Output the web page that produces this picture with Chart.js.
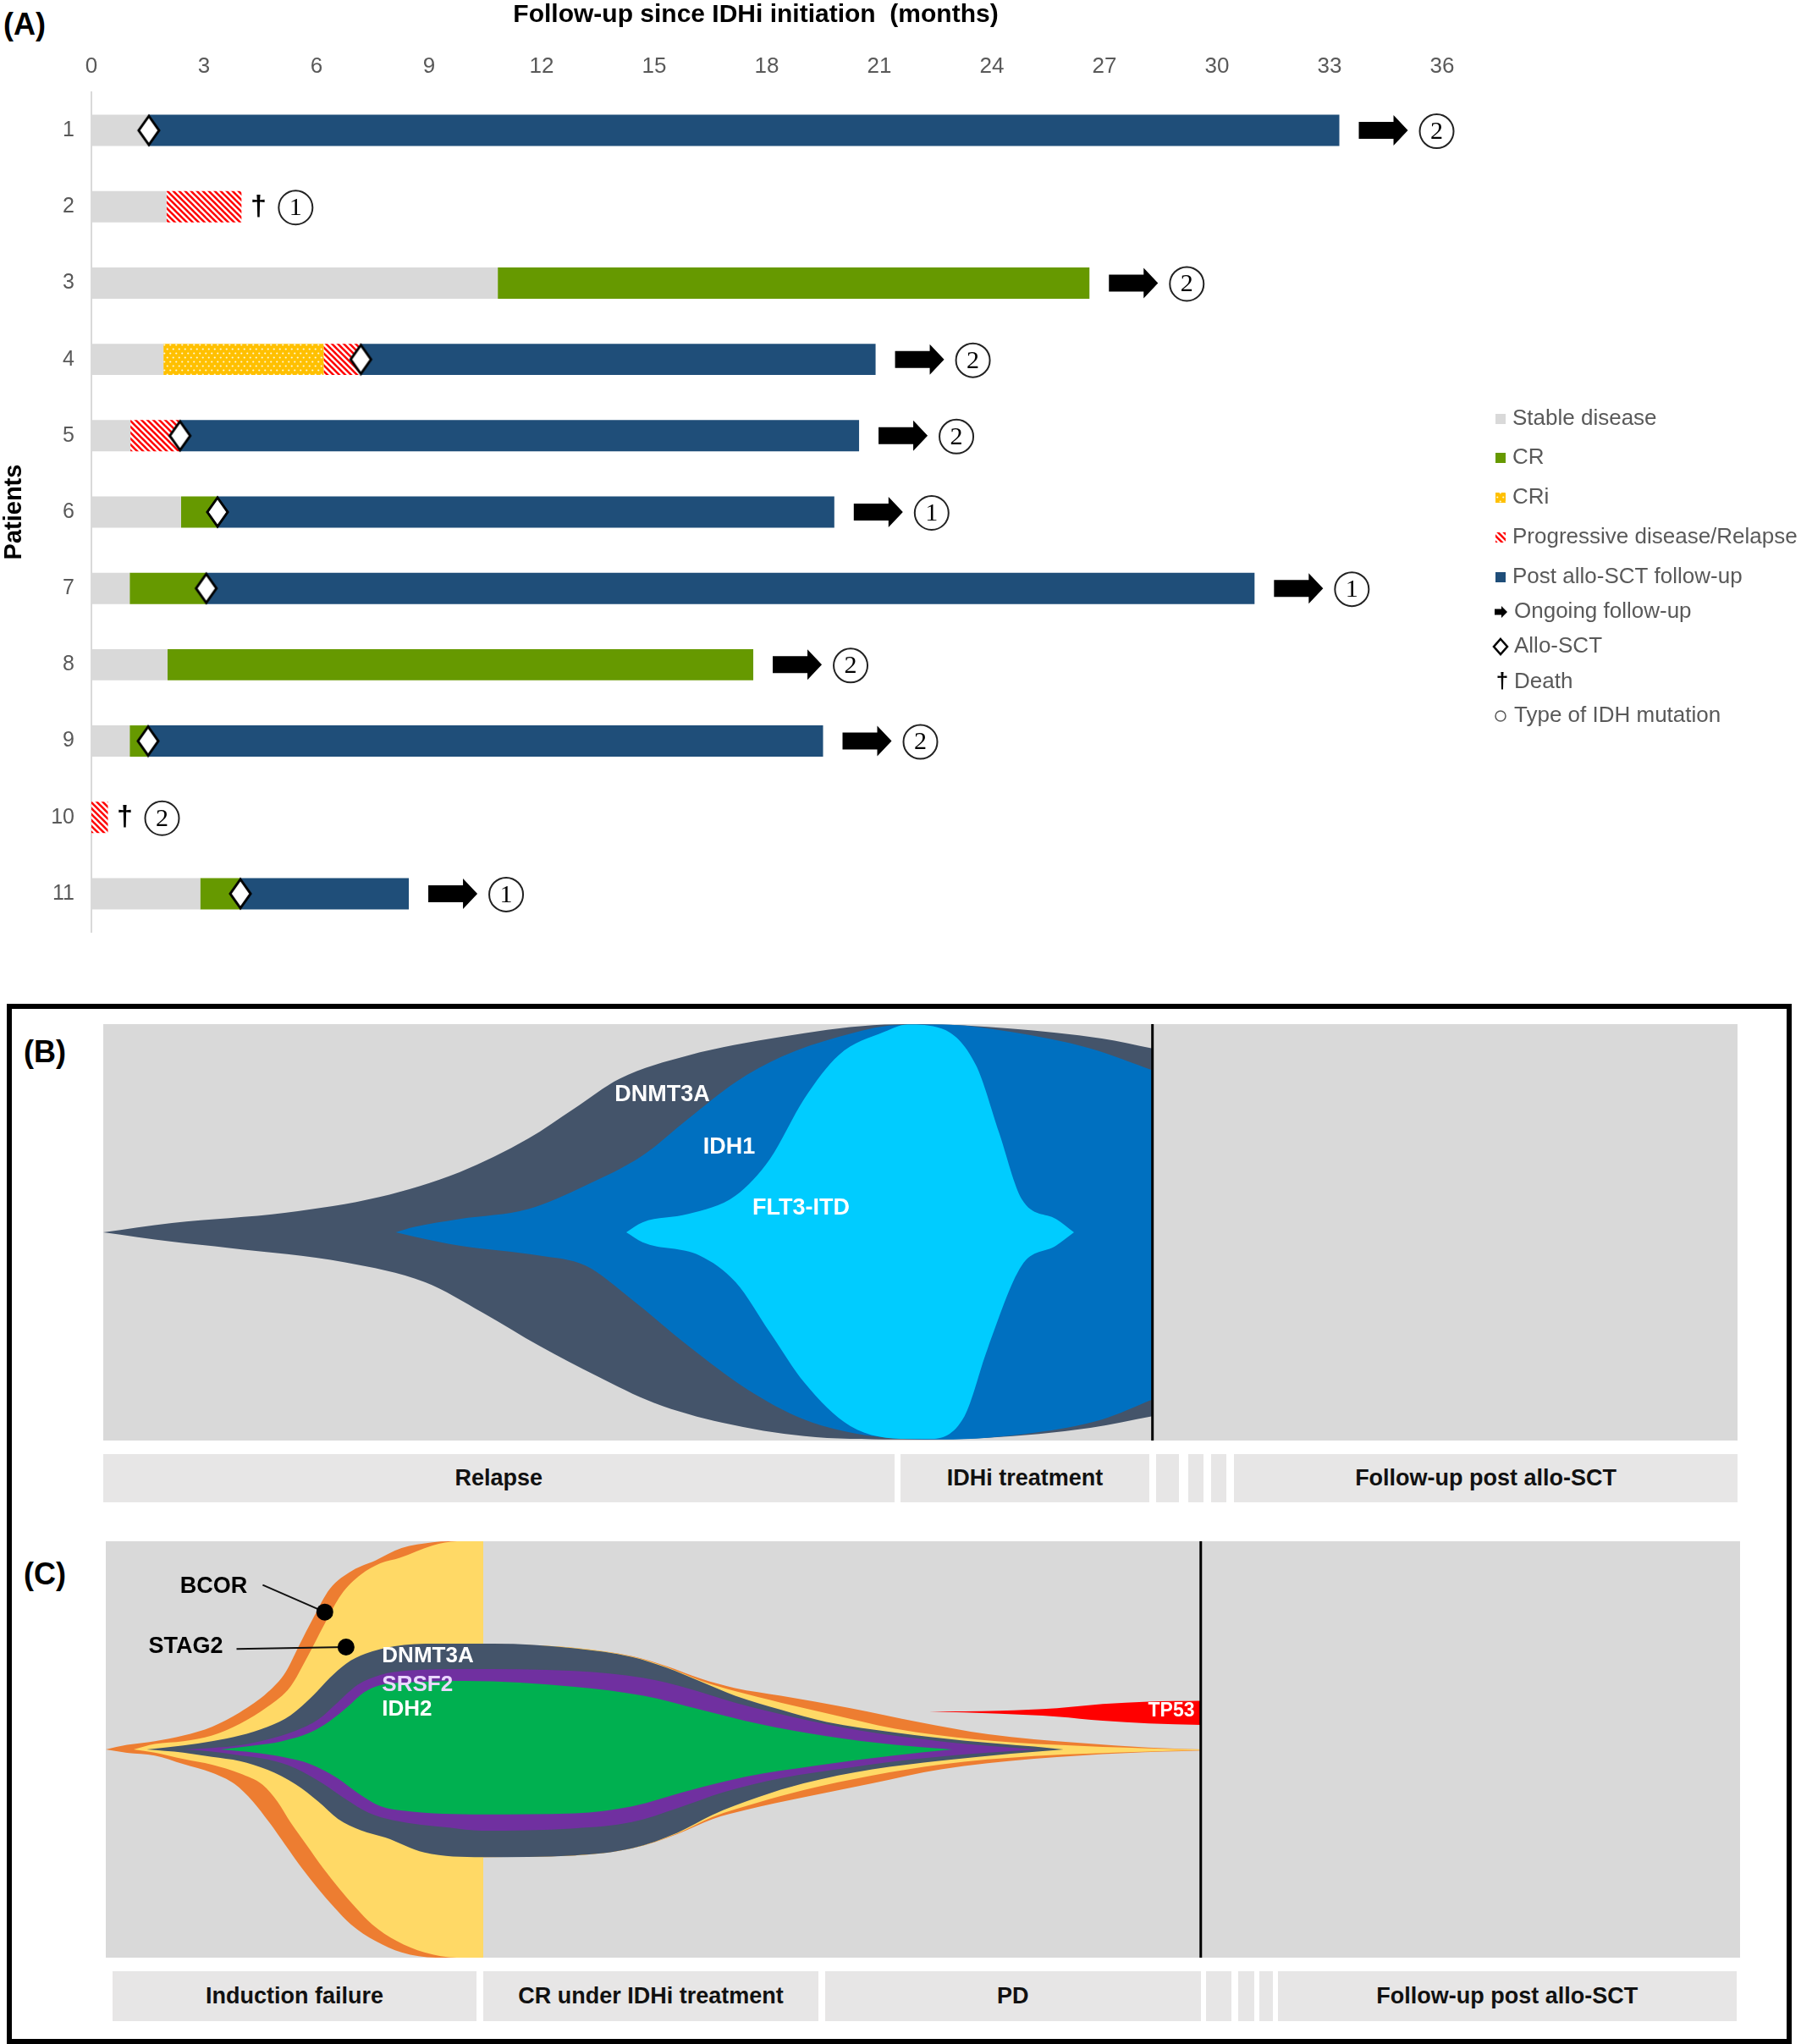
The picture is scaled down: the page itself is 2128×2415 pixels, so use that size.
<!DOCTYPE html>
<html>
<head>
<meta charset="utf-8">
<script src="https://cdn.jsdelivr.net/npm/chart.js@4.4.1/dist/chart.umd.min.js"></script>
<style>
    body { margin: 0; width: 2128px; height: 2415px; position: relative; overflow: hidden; background: #fff;
           font-family: "Liberation Sans", Arial, sans-serif; }
    canvas { position: absolute; }
    .panel-label { position: absolute; font-weight: bold; font-size: 36px; line-height: 40px; color: #000; }
    .frame { position: absolute; left: 8px; top: 1186px; width: 2097px; height: 1217px; border: 6px solid #000; }
    .phase { position: absolute; background: #e7e6e6; font-weight: bold; font-size: 27px; color: #111;
             display: flex; align-items: center; justify-content: center; white-space: nowrap; }
</style>
</head>
<body>
<div class="panel-label" style="left:4px;top:9px">(A)</div>
<div class="frame"></div>
<div class="panel-label" style="left:28px;top:1223px">(B)</div>
<div class="panel-label" style="left:28px;top:1840px">(C)</div>

<canvas id="swimmer" width="2128" height="1140" style="left:0;top:0;width:2128px;height:1140px"></canvas>
<canvas id="fishB" width="1931" height="492" style="left:122px;top:1210px;width:1931px;height:492px"></canvas>
<canvas id="fishC" width="1931" height="492" style="left:125px;top:1821px;width:1931px;height:492px"></canvas>

<script>
// ===== Panel A: swimmer plot (months since IDHi initiation) =====
const patients = ['1', '2', '3', '4', '5', '6', '7', '8', '9', '10', '11'];
const monthTicks = [0, 3, 6, 9, 12, 15, 18, 21, 24, 27, 30, 33, 36];

const stableDisease = [[0, 1.53], [0, 2.0], [0, 10.83], [0, 1.92], [0, 1.04], [0, 2.39], [0, 1.02], [0, 2.03], [0, 1.02], null, [0, 2.9]];
const completeRemission = [null, null, [10.83, 26.6], null, null, [2.39, 3.36], [1.02, 3.06], [2.03, 17.64], [1.02, 1.51], null, [2.9, 3.97]];
const criResponse = [null, null, null, [1.92, 6.19], null, null, null, null, null, null, null];
const progression = [null, [2.0, 4.0], null, [6.19, 7.18], [1.04, 2.36], null, null, null, null, [0, 0.44], null];
const postAlloSct = [[1.53, 33.26], null, null, [7.18, 20.9], [2.36, 20.46], [3.36, 19.8], [3.06, 31.0], null, [1.51, 19.5], null, [3.97, 8.46]];

const alloSctAt = [1.53, null, null, 7.18, 2.36, 3.36, 3.06, null, 1.51, null, 3.97];
const outcome = ['ongoing', 'death', 'ongoing', 'ongoing', 'ongoing', 'ongoing', 'ongoing', 'ongoing', 'ongoing', 'death', 'ongoing'];
const idhType = [2, 1, 2, 2, 2, 1, 1, 2, 2, 2, 1];

// ===== Panel B: clonal evolution, patient with relapse =====
const dnmt3aTopB = [[0, 0], [4.2, 4.5], [11.2, 9.5], [16.9, 17], [21.8, 28.9], [26, 45], [28.8, 59.4], [31.6, 73.8], [35.8, 85], [41.5, 93.9], [47.1, 99.5], [49.9, 100], [55.5, 97.9], [61.1, 93.1], [64.2, 88.3]];
const dnmt3aBottomB = [[0, 0], [4.2, -4.5], [7.7, -7.5], [14.8, -14.4], [19.7, -24], [23.2, -38.5], [26.7, -54.6], [30.2, -69], [33.7, -81.9], [37.9, -91.5], [42.9, -97.9], [48.5, -99.5], [54.1, -98.7], [60.4, -93.9], [64.2, -88.3]];
const idh1TopB = [[17.9, 0], [19, 2.5], [21.8, 6.4], [26, 11.2], [29.5, 22.5], [33, 36.9], [35.8, 54.6], [38.7, 72.2], [41.5, 84.3], [45, 93.9], [48.5, 99.5], [51.3, 99.8], [55.5, 96.3], [60.4, 88.3], [64.2, 77.8]];
const idh1BottomB = [[17.9, 0], [19, -2], [21.8, -6.4], [26.7, -11.2], [29.5, -16], [32.3, -32], [35.8, -54.6], [39.4, -75.4], [42.9, -89.9], [47.1, -97.9], [51.3, -99.5], [56.9, -96.3], [61.1, -89.9], [64.2, -80.3]];
const flt3TopB = [[32, 0], [33, 4.8], [35.8, 8.8], [38.7, 17.7], [40.8, 35.3], [42.9, 64.2], [45, 85.1], [47.8, 96.3], [49.2, 99.8], [51.3, 97.9], [53.4, 80.3], [54.8, 48.2], [56.2, 16], [58.3, 6.4], [59.4, 0]];
const flt3BottomB = [[32, 0], [33, -4.8], [36.5, -11.2], [38.7, -24], [40.8, -48.2], [42.9, -72.2], [45.7, -93], [49.2, -99.2], [50.6, -99.2], [52.7, -88.3], [54.1, -56.2], [56.2, -16], [58.3, -6.4], [59.4, 0]];
const alloSctTimeB = 64.2;
const phasesB = ['Relapse', 'IDHi treatment', '', '', '', 'Follow-up post allo-SCT'];
const phaseStartB = [0, 48.8, 64.4, 66.4, 67.8, 69.2];
const phaseEndB = [48.4, 64.0, 65.8, 67.3, 68.7, 100];

// ===== Panel C: clonal evolution, patient with induction failure =====
const orangeTopC1 = [[0, 0], [1.3, 2.2], [3, 4], [4.75, 6.7], [6.5, 10.9], [8.2, 17.8], [9.9, 27.4], [11, 37.1], [11.8, 49.5], [12.7, 63.2], [13.7, 77], [15.1, 86], [16.5, 90.8], [18.1, 96.7], [20, 99.5], [21, 100], [23.1, 100]];
const orangeBottomC1 = [[0, 0], [1.3, -1.6], [3, -2.9], [4.75, -7], [6.5, -11.2], [7.9, -16.7], [9, -25], [10, -35], [11, -46], [12, -57], [13, -67], [14, -76], [15, -84], [16.5, -92], [18.1, -97.5], [20.2, -100], [23.1, -100]];
const yellowTopC1 = [[1.7, 0], [3, 2.6], [4.75, 4], [6.5, 6.7], [8.2, 12.3], [9.9, 20.5], [11.3, 30.2], [12.3, 43.9], [13.4, 60.5], [14.4, 74.3], [15.6, 83.9], [16.8, 89.4], [18, 92.1], [20, 98], [21.5, 100], [23.1, 100]];
const yellowBottomC1 = [[1.7, 0], [3, -1.5], [4.75, -4.6], [6.5, -7.3], [8.2, -11.5], [9.6, -17], [10.5, -25], [11.3, -35], [12.3, -46], [13.3, -57], [14.3, -67], [15.3, -76], [16.3, -84], [17.8, -92], [19.5, -97.5], [21.5, -100], [23.1, -100]];
const orangeTopC2 = [[23, 50.8], [28.7, 48.8], [32.2, 44.8], [34.3, 40], [36.4, 34], [38.5, 29.5], [41.3, 25.8], [45.5, 19.9], [49.7, 13.2], [54, 7.3], [59.6, 3.1], [63.8, 0.9], [67, 0]];
const orangeBottomC2 = [[23, -51.7], [28.7, -50.9], [32.2, -47.5], [35, -40.5], [37.1, -33.5], [39.2, -29], [42.7, -23], [46.9, -16.3], [51.1, -9.6], [56.8, -4.5], [62.4, -1.7], [67, -0.5]];
const yellowTopC2 = [[23, 50.8], [28.7, 48.8], [32.2, 44.6], [34.3, 39.6], [36.4, 33], [38.5, 28], [41.3, 22.5], [44.1, 17.4], [48.3, 10], [53.3, 4.8], [58.2, 2.2], [63.8, 0.5], [67, 0]];
const yellowBottomC2 = [[23, -51.7], [28.7, -50.9], [32.2, -47.5], [35, -40.2], [37.1, -32.5], [39.9, -25.5], [42.7, -19.5], [46.9, -12.5], [51.1, -7.2], [56.8, -3.2], [63.8, -1], [67, -0.3]];
const dnmt3aTopC = [[2.5, 0], [4.75, 1.9], [6.5, 4], [8.2, 6.7], [9.9, 10.9], [11.3, 16.4], [12.7, 26], [13.7, 34.3], [14.7, 41.2], [15.9, 46], [17.6, 49.5], [20.2, 50.8], [23.7, 50.8], [28.7, 48.6], [32.2, 44.4], [34.3, 39.3], [36.4, 32.6], [38.5, 25.8], [41.3, 19.1], [44.1, 13.2], [48.3, 8.1], [52.6, 4.2], [56.8, 1.4], [58.6, 0]];
const dnmt3aBottomC = [[2.5, 0], [4.75, -1.5], [6.5, -3.6], [8.2, -5.6], [9.9, -9.8], [11.6, -16.7], [13, -25], [14.2, -33.3], [15.6, -38.8], [17.1, -42.3], [19.5, -49.5], [23, -51.7], [28.7, -50.9], [32.2, -47.5], [35, -39.9], [37.1, -31.5], [39.9, -23], [42.7, -16.3], [46.9, -9.6], [51.1, -5.4], [55.4, -2], [58.6, 0]];
const srsf2TopC = [[4.75, 0], [6.5, 0.7], [8.2, 2], [9.9, 4.8], [11.6, 8.9], [13, 14.4], [14.2, 22.7], [15.4, 31], [16.8, 35.8], [18.5, 37.9], [21.9, 38.6], [28.7, 37.7], [32.9, 34.3], [35.7, 29.2], [38.5, 22.5], [42, 15.7], [46.2, 9], [51.1, 3.9], [55.4, 0.9], [57.1, 0]];
const srsf2BottomC = [[4.75, 0], [6.5, -1], [8.2, -2.8], [9.9, -4.8], [11.6, -9], [13.3, -16.5], [14.7, -24], [16.1, -30.5], [17.6, -34], [21, -37.5], [23, -39], [28.7, -37.9], [32.2, -34.9], [35, -28.1], [37.8, -20.5], [41.3, -13.8], [45.5, -8.7], [49.7, -4.5], [54, -1.5], [57.1, 0]];
const idh2TopC = [[7, 0], [9.1, 1.9], [10.8, 4], [12.5, 8.1], [13.7, 13.6], [14.8, 20.5], [15.8, 27.4], [16.8, 30.9], [18.6, 32.2], [22, 32.9], [28.7, 30.1], [32.9, 25.8], [36.4, 19.1], [39.9, 12.4], [44.1, 6.4], [48.3, 2.2], [51.8, 0]];
const idh2BottomC = [[7, 0], [9.1, -1.5], [10.8, -3.6], [12.5, -7], [14.2, -13.9], [15.4, -20.8], [16.8, -27.2], [18.3, -29.5], [23, -31.2], [28.7, -30.7], [32.2, -27.3], [35.7, -19.7], [39.2, -13], [43.4, -7.8], [48.3, -2.8], [51.8, 0]];
const tp53TopC = [[50.4, 18.2], [54.7, 18.6], [58.2, 19.8], [61, 21.8], [63.8, 23], [67, 23.4]];
const tp53BottomC = [[50.4, 18.2], [54.7, 17.2], [58.2, 15.8], [61, 13.8], [63.8, 12.5], [67, 11.8]];
const alloSctTimeC = 67;
const phasesC = ['Induction failure', 'CR under IDHi treatment', 'PD', '', '', '', 'Follow-up post allo-SCT'];
const phaseStartC = [0.4, 23.1, 44.0, 67.3, 69.3, 70.6, 71.7];
const phaseEndC = [22.7, 43.6, 67.0, 68.9, 70.3, 71.4, 99.8];

const FONT = '"Liberation Sans", Arial, sans-serif';
Chart.defaults.font.family = FONT;

// --- fill patterns ---
function makeHatch() {
    const c = document.createElement('canvas');
    c.width = 7; c.height = 7;
    const g = c.getContext('2d');
    g.fillStyle = '#fff';
    g.fillRect(0, 0, 7, 7);
    g.strokeStyle = '#ff0000';
    g.lineWidth = 2.6;
    [-7, 0, 7].forEach(o => {
        g.beginPath();
        g.moveTo(o - 1, -1);
        g.lineTo(o + 8, 8);
        g.stroke();
    });
    return c;
}

function makeDots() {
    const c = document.createElement('canvas');
    c.width = 7; c.height = 10;
    const g = c.getContext('2d');
    g.fillStyle = '#ffc000';
    g.fillRect(0, 0, 7, 10);
    g.fillStyle = '#fff7d6';
    [[1.75, 2.5], [5.25, 7.5]].forEach(([cx, cy]) => {
        g.beginPath();
        g.arc(cx, cy, 1.1, 0, Math.PI * 2);
        g.fill();
    });
    return c;
}

function makeDiamond(w, h, lw) {
    const c = document.createElement('canvas');
    c.width = w; c.height = h;
    const g = c.getContext('2d');
    g.beginPath();
    g.moveTo(w / 2, lw);
    g.lineTo(w - lw, h / 2);
    g.lineTo(w / 2, h - lw);
    g.lineTo(lw, h / 2);
    g.closePath();
    g.fillStyle = '#fff';
    g.fill();
    g.lineWidth = lw;
    g.strokeStyle = '#000';
    g.lineJoin = 'miter';
    g.stroke();
    return c;
}

const swimCtx = document.getElementById('swimmer').getContext('2d');
const hatchPattern = swimCtx.createPattern(makeHatch(), 'repeat');
const dotPattern = swimCtx.createPattern(makeDots(), 'repeat');
const diamondImg = makeDiamond(30, 40, 3);

const segmentSeries = [stableDisease, completeRemission, criResponse, progression, postAlloSct];

function drawArrow(ctx, x0, cy, len, shaftH, headL, headH) {
    ctx.beginPath();
    ctx.moveTo(x0, cy - shaftH / 2);
    ctx.lineTo(x0 + len - headL, cy - shaftH / 2);
    ctx.lineTo(x0 + len - headL, cy - headH / 2);
    ctx.lineTo(x0 + len, cy);
    ctx.lineTo(x0 + len - headL, cy + headH / 2);
    ctx.lineTo(x0 + len - headL, cy + shaftH / 2);
    ctx.lineTo(x0, cy + shaftH / 2);
    ctx.closePath();
    ctx.fillStyle = '#000';
    ctx.fill();
}

function drawCircled(ctx, cx, cy, r, label, fontPx) {
    ctx.beginPath();
    ctx.arc(cx, cy, r, 0, Math.PI * 2);
    ctx.lineWidth = 2;
    ctx.strokeStyle = '#222';
    ctx.stroke();
    if (label !== '') {
        ctx.fillStyle = '#000';
        ctx.font = fontPx + 'px "Liberation Serif", "DejaVu Serif", serif';
        ctx.textAlign = 'center';
        ctx.textBaseline = 'middle';
        ctx.fillText(label, cx, cy + 1);
    }
}

// axis title drawn centred on the printed title position
const titlePlugin = {
    id: 'topTitle',
    afterDraw(chart) {
        const { ctx, chartArea: a } = chart;
        ctx.save();
        ctx.font = 'bold 30px ' + FONT;
        ctx.fillStyle = '#000';
        ctx.textAlign = 'center';
        ctx.textBaseline = 'middle';
        ctx.fillText('Follow-up since IDHi initiation  (months)', (a.left + a.right) / 2 - 13, 18);
        ctx.restore();
    }
};

// arrows / deaths and IDH type next to each bar
const outcomePlugin = {
    id: 'outcomeMarkers',
    afterDatasetsDraw(chart) {
        const { ctx, scales: { x, y } } = chart;
        ctx.save();
        patients.forEach((p, i) => {
            const end = Math.max(...segmentSeries.map(s => (s[i] ? s[i][1] : 0)));
            const px = x.getPixelForValue(end);
            const py = y.getPixelForValue(i);
            if (outcome[i] === 'ongoing') {
                drawArrow(ctx, px + 23, py, 58, 20, 17, 36);
                drawCircled(ctx, px + 115, py + 1, 20, String(idhType[i]), 30);
            } else {
                ctx.fillStyle = '#000';
                ctx.font = 'bold 34px ' + FONT;
                ctx.textAlign = 'center';
                ctx.textBaseline = 'middle';
                ctx.fillText('\u2020', px + 20, py);
                drawCircled(ctx, px + 64, py + 1, 20, String(idhType[i]), 30);
            }
        });
        ctx.restore();
    }
};

const legendItems = [
    { label: 'Stable disease', kind: 'box', fill: '#d9d9d9' },
    { label: 'CR', kind: 'box', fill: '#669900' },
    { label: 'CRi', kind: 'box', fill: dotPattern },
    { label: 'Progressive disease/Relapse', kind: 'box', fill: hatchPattern },
    { label: 'Post allo-SCT follow-up', kind: 'box', fill: '#1f4e79' },
    { label: 'Ongoing follow-up', kind: 'arrow' },
    { label: 'Allo-SCT', kind: 'diamond' },
    { label: 'Death', kind: 'dagger' },
    { label: 'Type of IDH mutation', kind: 'circle' }
];

const legendPlugin = {
    id: 'sideLegend',
    afterDraw(chart) {
        const ctx = chart.ctx;
        const rows = [495, 541, 588, 635, 682, 723, 764, 806, 846];
        ctx.save();
        ctx.textBaseline = 'middle';
        ctx.textAlign = 'left';
        legendItems.forEach((item, i) => {
            const cy = rows[i];
            const mx = 1773;
            if (item.kind === 'box') {
                ctx.fillStyle = item.fill;
                ctx.fillRect(mx - 6, cy - 6, 12, 12);
            } else if (item.kind === 'arrow') {
                drawArrow(ctx, mx - 7, cy, 15, 7, 7, 14);
            } else if (item.kind === 'diamond') {
                ctx.beginPath();
                ctx.moveTo(mx, cy - 9);
                ctx.lineTo(mx + 8, cy);
                ctx.lineTo(mx, cy + 9);
                ctx.lineTo(mx - 8, cy);
                ctx.closePath();
                ctx.fillStyle = '#fff';
                ctx.fill();
                ctx.lineWidth = 2.5;
                ctx.strokeStyle = '#000';
                ctx.stroke();
            } else if (item.kind === 'dagger') {
                ctx.fillStyle = '#000';
                ctx.font = 'bold 26px ' + FONT;
                ctx.textAlign = 'center';
                ctx.fillText('\u2020', mx + 2, cy);
                ctx.textAlign = 'left';
            } else if (item.kind === 'circle') {
                ctx.beginPath();
                ctx.arc(mx, cy, 6, 0, Math.PI * 2);
                ctx.lineWidth = 1.5;
                ctx.strokeStyle = '#595959';
                ctx.stroke();
            }
            ctx.fillStyle = '#595959';
            ctx.font = '26px ' + FONT;
            ctx.fillText(item.label, item.kind === 'box' ? 1787 : 1789, cy);
        });
        ctx.restore();
    }
};

const barStyle = { grouped: false, barPercentage: 0.41, categoryPercentage: 1, borderWidth: 0 };

new Chart(swimCtx, {
    type: 'bar',
    data: {
        labels: patients,
        datasets: [
            {
                type: 'scatter',
                label: 'Allo-SCT',
                data: alloSctAt.map((v, i) => (v == null ? null : { x: v, y: patients[i] })).filter(Boolean),
                pointStyle: diamondImg,
                pointRadius: 12,
                order: -1
            },
            { label: 'Stable disease', data: stableDisease, backgroundColor: '#d9d9d9', ...barStyle },
            { label: 'CR', data: completeRemission, backgroundColor: '#669900', ...barStyle },
            { label: 'CRi', data: criResponse, backgroundColor: dotPattern, ...barStyle },
            { label: 'Progressive disease/Relapse', data: progression, backgroundColor: hatchPattern, ...barStyle },
            { label: 'Post allo-SCT follow-up', data: postAlloSct, backgroundColor: '#1f4e79', ...barStyle }
        ]
    },
    options: {
        indexAxis: 'y',
        responsive: false,
        animation: false,
        devicePixelRatio: 1,
        events: [],
        layout: { padding: { top: 0, right: 424, bottom: 39, left: 0 } },
        scales: {
            x: {
                type: 'linear',
                position: 'top',
                min: 0,
                max: 36,
                afterBuildTicks: s => { s.ticks = monthTicks.map(v => ({ value: v })); },
                ticks: { color: '#595959', font: { size: 26 }, padding: 15, maxRotation: 0 },
                grid: { display: false, drawTicks: false },
                border: { display: false },
                afterFit: s => { s.height = 109; s.paddingLeft = 0; s.paddingRight = 0; }
            },
            y: {
                type: 'category',
                offset: true,
                ticks: { color: '#595959', font: { size: 25 }, padding: 20 },
                grid: { display: false, drawTicks: false },
                border: { display: true, color: '#d9d9d9', width: 2 },
                title: {
                    display: true,
                    text: 'Patients',
                    color: '#000',
                    font: { size: 29, weight: 'bold' },
                    padding: 0
                },
                afterFit: s => { s.width = 108; s.paddingTop = 0; s.paddingBottom = 0; }
            }
        },
        plugins: { legend: { display: false }, tooltip: { enabled: false } }
    },
    plugins: [outcomePlugin, legendPlugin, titlePlugin]
});

// ===== fishplots =====
function cloneDatasets(layers) {
    const sets = [];
    layers.forEach(l => {
        const common = { backgroundColor: l.color, borderColor: 'transparent', borderWidth: 0, pointRadius: 0,
                         cubicInterpolationMode: 'monotone' };
        sets.push({ label: l.name, data: l.top, fill: '+1', ...common });
        sets.push({ label: l.name + ' (lower)', data: l.bottom, fill: false, ...common });
    });
    return sets;
}

function fishPlugin(alloTime, labels, leaders) {
    return {
        id: 'fishDecor',
        beforeDraw(chart) {
            const { ctx, chartArea: a } = chart;
            ctx.save();
            ctx.fillStyle = '#d9d9d9';
            ctx.fillRect(a.left, a.top, a.right - a.left, a.bottom - a.top);
            ctx.restore();
        },
        afterDatasetsDraw(chart) {
            const { ctx, chartArea: a, scales: { x, y } } = chart;
            ctx.save();
            const lx = x.getPixelForValue(alloTime);
            ctx.beginPath();
            ctx.moveTo(lx, a.top);
            ctx.lineTo(lx, a.bottom);
            ctx.lineWidth = 3;
            ctx.strokeStyle = '#000';
            ctx.stroke();

            leaders.forEach(l => {
                ctx.beginPath();
                ctx.moveTo(x.getPixelForValue(l.from[0]), y.getPixelForValue(l.from[1]));
                ctx.lineTo(x.getPixelForValue(l.to[0]), y.getPixelForValue(l.to[1]));
                ctx.lineWidth = 2;
                ctx.strokeStyle = '#111';
                ctx.stroke();
                ctx.beginPath();
                ctx.arc(x.getPixelForValue(l.to[0]), y.getPixelForValue(l.to[1]), 10, 0, Math.PI * 2);
                ctx.fillStyle = '#000';
                ctx.fill();
            });

            labels.forEach(t => {
                ctx.font = 'bold ' + t.size + 'px ' + FONT;
                ctx.fillStyle = t.color;
                ctx.textAlign = t.align || 'center';
                ctx.textBaseline = 'middle';
                ctx.fillText(t.text, x.getPixelForValue(t.at[0]), y.getPixelForValue(t.at[1]));
            });
            ctx.restore();
        }
    };
}

const fishOptions = {
    responsive: false,
    animation: false,
    devicePixelRatio: 1,
    events: [],
    layout: { padding: 0 },
    scales: {
        x: { type: 'linear', min: 0, max: 100, display: false },
        y: { type: 'linear', min: -100, max: 100, display: false }
    },
    plugins: { legend: { display: false }, tooltip: { enabled: false } }
};

const chartB = new Chart(document.getElementById('fishB'), {
    type: 'line',
    data: {
        datasets: cloneDatasets([
            { name: 'FLT3-ITD', color: '#00ccff', top: flt3TopB, bottom: flt3BottomB },
            { name: 'IDH1', color: '#0070c0', top: idh1TopB, bottom: idh1BottomB },
            { name: 'DNMT3A', color: '#44546a', top: dnmt3aTopB, bottom: dnmt3aBottomB }
        ])
    },
    options: fishOptions,
    plugins: [fishPlugin(alloSctTimeB, [
        { text: 'DNMT3A', at: [34.2, 66], color: '#fff', size: 27 },
        { text: 'IDH1', at: [38.3, 41], color: '#fff', size: 27 },
        { text: 'FLT3-ITD', at: [42.7, 11.7], color: '#fff', size: 27 }
    ], [])]
});

const chartC = new Chart(document.getElementById('fishC'), {
    type: 'line',
    data: {
        datasets: cloneDatasets([
            { name: 'TP53', color: '#ff0000', top: tp53TopC, bottom: tp53BottomC },
            { name: 'IDH2', color: '#00b050', top: idh2TopC, bottom: idh2BottomC },
            { name: 'SRSF2', color: '#7030a0', top: srsf2TopC, bottom: srsf2BottomC },
            { name: 'DNMT3A', color: '#44546a', top: dnmt3aTopC, bottom: dnmt3aBottomC },
            { name: 'STAG2', color: '#ffd966', top: yellowTopC1, bottom: yellowBottomC1 },
            { name: 'STAG2 later', color: '#ffd966', top: yellowTopC2, bottom: yellowBottomC2 },
            { name: 'BCOR', color: '#ed7d31', top: orangeTopC1, bottom: orangeBottomC1 },
            { name: 'BCOR later', color: '#ed7d31', top: orangeTopC2, bottom: orangeBottomC2 }
        ])
    },
    options: fishOptions,
    plugins: [fishPlugin(alloSctTimeC, [
        { text: 'BCOR', at: [6.6, 78.4], color: '#000', size: 27 },
        { text: 'STAG2', at: [4.9, 49.5], color: '#000', size: 27 },
        { text: 'DNMT3A', at: [16.9, 44.6], color: '#fff', size: 26, align: 'left' },
        { text: 'SRSF2', at: [16.9, 30.9], color: '#ead7ff', size: 26, align: 'left' },
        { text: 'IDH2', at: [16.9, 19.1], color: '#fff', size: 26, align: 'left' },
        { text: 'TP53', at: [65.2, 18.3], color: '#fff', size: 23 }
    ], [
        { from: [9.6, 79], to: [13.4, 66] },
        { from: [8, 48.3], to: [14.7, 49.2] }
    ])]
});

// phase boxes under each fishplot, placed on the fishplot's own time scale
function addPhases(chart, left, top, height, names, starts, ends) {
    const xs = chart.scales.x;
    names.forEach((n, i) => {
        const x0 = xs.getPixelForValue(starts[i]);
        const x1 = xs.getPixelForValue(ends[i]);
        const d = document.createElement('div');
        d.className = 'phase';
        d.style.left = (left + x0) + 'px';
        d.style.width = (x1 - x0) + 'px';
        d.style.top = top + 'px';
        d.style.height = height + 'px';
        d.textContent = n;
        document.body.appendChild(d);
    });
}

addPhases(chartB, 122, 1718, 57, phasesB, phaseStartB, phaseEndB);
addPhases(chartC, 125, 2329, 59, phasesC, phaseStartC, phaseEndC);
</script>
</body>
</html>
